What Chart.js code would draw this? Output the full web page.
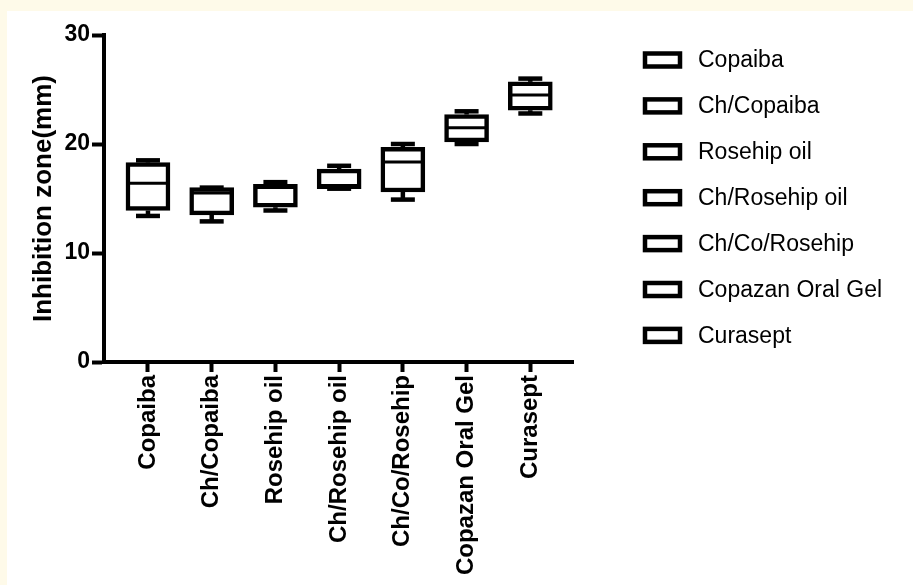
<!DOCTYPE html>
<html>
<head>
<meta charset="utf-8">
<script src="https://cdn.jsdelivr.net/npm/chart.js@4/dist/chart.umd.min.js"></script>
<style>
  html, body { margin: 0; padding: 0; background: #fefae9; }
  body { width: 913px; height: 585px; position: relative; overflow: hidden; }
  #wrap { position: absolute; left: 7px; top: 11px; width: 906px; height: 574px; background: #ffffff; }
  canvas { display: block; }
</style>
</head>
<body>
<div id="wrap"><canvas id="chart" width="906" height="574"></canvas></div>
<script>
// Inhibition zone (mm) per treatment: five-number summaries
const categories = ['Copaiba', 'Ch/Copaiba', 'Rosehip oil', 'Ch/Rosehip oil', 'Ch/Co/Rosehip', 'Copazan Oral Gel', 'Curasept'];
const minValues    = [13.4, 12.9, 13.9, 15.9, 14.9, 20.0, 22.8];
const q1Values     = [13.9, 13.5, 14.2, 15.9, 15.6, 20.2, 23.1];
const medianValues = [16.4, 15.5, 16.0, 16.2, 18.35, 21.5, 24.5];
const q3Values     = [18.3, 16.0, 16.3, 17.7, 19.7, 22.7, 25.7];
const maxValues    = [18.5, 16.0, 16.5, 18.0, 20.0, 23.0, 26.0];
const yTicks = [0, 10, 20, 30];

const BOX_WIDTH = 44;
const CAP_WIDTH = 24;
const INK = '#000000';

// Median lines and whiskers, placed with the chart's own scales
const boxExtras = {
  id: 'boxExtras',
  afterDatasetsDraw(chart) {
    const {ctx, scales: {x, y}} = chart;
    ctx.save();
    ctx.strokeStyle = INK;
    ctx.lineCap = 'butt';
    categories.forEach((c, i) => {
      const cx = x.getPixelForValue(i);
      // median
      ctx.lineWidth = 3;
      ctx.beginPath();
      ctx.moveTo(cx - BOX_WIDTH / 2 + 2, y.getPixelForValue(medianValues[i]));
      ctx.lineTo(cx + BOX_WIDTH / 2 - 2, y.getPixelForValue(medianValues[i]));
      ctx.stroke();
      // whiskers
      ctx.lineWidth = 4.5;
      const pairs = [[q3Values[i], maxValues[i]], [q1Values[i], minValues[i]]];
      pairs.forEach(([from, to]) => {
        const y0 = y.getPixelForValue(from);
        const y1 = y.getPixelForValue(to);
        ctx.beginPath();
        ctx.moveTo(cx, y0);
        ctx.lineTo(cx, y1);
        ctx.stroke();
        ctx.beginPath();
        ctx.moveTo(cx - CAP_WIDTH / 2, y1);
        ctx.lineTo(cx + CAP_WIDTH / 2, y1);
        ctx.stroke();
      });
    });
    ctx.restore();
  }
};

// Legend listing each treatment with an open box symbol
const boxLegend = {
  id: 'boxLegend',
  afterDraw(chart) {
    const {ctx, chartArea} = chart;
    const left = chartArea.right + 72;
    const top = 49;
    const step = 45.9;
    ctx.save();
    ctx.font = '23px "Liberation Sans", Arial, sans-serif';
    ctx.textBaseline = 'middle';
    ctx.textAlign = 'left';
    ctx.fillStyle = INK;
    ctx.strokeStyle = INK;
    ctx.lineWidth = 4.5;
    categories.forEach((c, i) => {
      const cy = top + i * step;
      ctx.strokeRect(left, cy - 6.5, 35, 13);
      ctx.fillText(c, left + 53, cy + 1);
    });
    ctx.restore();
  }
};

new Chart(document.getElementById('chart'), {
  type: 'bar',
  data: {
    datasets: [{
      label: 'Inhibition zone',
      data: categories.map((c, i) => ({x: i, y: [q1Values[i], q3Values[i]]})),
      backgroundColor: '#ffffff',
      borderColor: INK,
      borderWidth: 4.5,
      borderSkipped: false,
      barThickness: BOX_WIDTH
    }]
  },
  options: {
    responsive: false,
    animation: false,
    devicePixelRatio: 1,
    layout: { padding: { top: 24, right: 340, left: 0, bottom: 0 } },
    plugins: { legend: { display: false }, tooltip: { enabled: false } },
    scales: {
      x: {
        type: 'linear',
        offset: false,
        min: -0.69,
        max: 6.67,
        afterBuildTicks: s => { s.ticks = categories.map((c, i) => ({value: i})); },
        afterFit: s => { s.height = 223; },
        border: { display: true, color: INK, width: 4 },
        grid: { display: true, offset: false, drawOnChartArea: false, drawTicks: true, tickLength: 10, tickWidth: 4, tickColor: INK },
        ticks: {
          autoSkip: false,
          minRotation: 90,
          maxRotation: 90,
          padding: 3,
          color: INK,
          font: { family: '"Liberation Sans", Arial, sans-serif', size: 24, weight: 'bold' },
          callback: v => categories[v]
        }
      },
      y: {
        min: 0,
        max: 30,
        afterBuildTicks: s => { s.ticks = yTicks.map(v => ({value: v})); },
        afterFit: s => { s.width = 97; },
        border: { display: true, color: INK, width: 4 },
        grid: { display: true, drawOnChartArea: false, drawTicks: true, tickLength: 12, tickWidth: 4, tickColor: INK },
        ticks: {
          padding: 2,
          color: INK,
          font: { family: '"Liberation Sans", Arial, sans-serif', size: 23, weight: 'bold' }
        },
        title: {
          display: true,
          text: 'Inhibition zone(mm)',
          color: INK,
          padding: { top: 21, bottom: 0 },
          font: { family: '"Liberation Sans", Arial, sans-serif', size: 26, weight: 'bold' }
        }
      }
    }
  },
  plugins: [boxExtras, boxLegend]
});
</script>
</body>
</html>
